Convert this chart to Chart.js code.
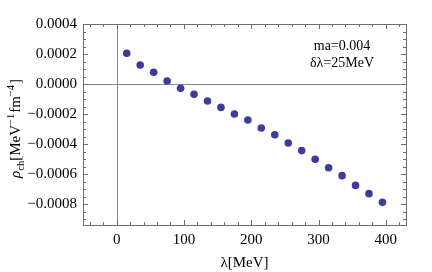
<!DOCTYPE html>
<html>
<head>
<meta charset="utf-8">
<script src="https://cdn.jsdelivr.net/npm/chart.js"></script>
<style>
  html, body { margin: 0; padding: 0; background: #fff; }
</style>
</head>
<body>
<canvas id="c" width="432" height="272"></canvas>
<script>
// data
const lambdaMeV = [15, 35, 55, 75, 95, 115, 135, 155, 175, 195, 215, 235, 255, 275, 295, 315, 335, 355, 375, 395];
const rhoCh = [0.000205, 0.000127, 0.000078, 0.000020, -0.000029, -0.000069, -0.000113, -0.000156, -0.000200, -0.000240,
               -0.000293, -0.000338, -0.000393, -0.000444, -0.000502, -0.000558, -0.000611, -0.000676, -0.000731, -0.000789];
const xTicks = [0, 100, 200, 300, 400];
const yTicks = [-0.0008, -0.0006, -0.0004, -0.0002, 0, 0.0002, 0.0004];
const xRange = [-50, 430];
const yRange = [-0.00094, 0.0004];
const noteLines = ['ma=0.004', 'δλ=25MeV'];

const SERIF = "'Liberation Serif', 'DejaVu Serif', serif";
const FRAME = '#6e6e6e';

function fmtY(v) {
  const s = Math.abs(v).toFixed(4);
  return v < -1e-12 ? '\u2212' + s : s;
}

// draws a run of [text, style] pieces; style: 'n' normal, 'i' italic, 'sub', 'sup'
function drawRich(ctx, pieces, x, y, size) {
  let w = 0;
  const fonts = pieces.map(([t, st]) => {
    const small = st === 'sub' || st === 'sup';
    const f = (st === 'i' ? 'italic ' : '') + (small ? size * 0.7 : size) + 'px ' + SERIF;
    ctx.font = f;
    const tw = ctx.measureText(t).width + (st === 'sup' ? 1 : 0);
    w += tw;
    return { t, st, f, tw };
  });
  let cx = x - w / 2;
  ctx.textAlign = 'left';
  ctx.textBaseline = 'alphabetic';
  for (const p of fonts) {
    ctx.font = p.f;
    let dy = 0;
    if (p.st === 'sub') dy = size * 0.25;
    if (p.st === 'sup') dy = -size * 0.4;
    ctx.fillText(p.t, cx, y + dy);
    cx += p.tw;
  }
}

const framePlugin = {
  id: 'frame',
  beforeDatasetsDraw(chart) {
    const { ctx, chartArea: a, scales: { x, y } } = chart;
    ctx.save();
    // zero axes
    ctx.strokeStyle = '#8a8a8a';
    ctx.lineWidth = 1;
    const x0 = Math.round(x.getPixelForValue(0)) + 0.5;
    const y0 = Math.round(y.getPixelForValue(0)) + 0.5;
    ctx.beginPath();
    ctx.moveTo(x0, a.top); ctx.lineTo(x0, a.bottom);
    ctx.moveTo(a.left, y0); ctx.lineTo(a.right, y0);
    ctx.stroke();

    // frame
    ctx.strokeStyle = FRAME;
    ctx.strokeRect(Math.round(a.left) + 0.5, Math.round(a.top) + 0.5,
                   Math.round(a.right - a.left), Math.round(a.bottom - a.top));

    // inward ticks on all four sides
    ctx.beginPath();
    for (let i = -2; i <= 21; i++) {
      const px = Math.round(x.getPixelForValue(i * 20)) + 0.5;
      if (px < a.left || px > a.right) continue;
      const len = i % 5 === 0 ? 5 : 3;
      ctx.moveTo(px, a.bottom); ctx.lineTo(px, a.bottom - len);
      ctx.moveTo(px, a.top); ctx.lineTo(px, a.top + len);
    }
    for (let i = -18; i <= 8; i++) {
      const py = Math.round(y.getPixelForValue(i * 0.00005)) + 0.5;
      if (py < a.top || py > a.bottom) continue;
      const len = i % 4 === 0 ? 5 : 3;
      ctx.moveTo(a.left, py); ctx.lineTo(a.left + len, py);
      ctx.moveTo(a.right, py); ctx.lineTo(a.right - len, py);
    }
    ctx.stroke();
    ctx.restore();
  },
  afterDraw(chart) {
    const { ctx, chartArea: a } = chart;
    ctx.save();
    ctx.fillStyle = '#000';
    // axis titles
    drawRich(ctx, [['λ[MeV]', 'n']], (a.left + a.right) / 2, 267, 15);
    ctx.translate(20, (a.top + a.bottom) / 2 + 4);
    ctx.rotate(-Math.PI / 2);
    drawRich(ctx, [['ρ', 'i'], ['ch', 'sub'], ['[MeV', 'n'], ['\u22121', 'sup'], ['fm', 'n'], ['\u22124', 'sup'], [']', 'n']], 0, 0, 15);
    ctx.restore();

    // annotation
    ctx.save();
    ctx.fillStyle = '#000';
    ctx.font = '14px ' + SERIF;
    ctx.textAlign = 'center';
    ctx.textBaseline = 'middle';
    noteLines.forEach((t, k) => ctx.fillText(t, 342, 46 + k * 17));
    ctx.restore();
  }
};

new Chart(document.getElementById('c'), {
  type: 'scatter',
  data: {
    datasets: [{
      data: lambdaMeV.map((v, i) => ({ x: v, y: rhoCh[i] })),
      backgroundColor: '#3d3d99',
      borderColor: '#3d3d99',
      pointRadius: 3.8,
      borderWidth: 0
    }]
  },
  options: {
    responsive: false,
    animation: false,
    devicePixelRatio: 1,
    layout: { padding: { top: 24, right: 26, left: 0, bottom: 0 } },
    plugins: { legend: { display: false }, tooltip: { enabled: false } },
    scales: {
      x: {
        type: 'linear',
        min: xRange[0], max: xRange[1],
        afterBuildTicks: s => { s.ticks = xTicks.map(v => ({ value: v })); },
        afterFit: s => { s.height = 47; },
        grid: { display: false, drawTicks: false },
        border: { display: false },
        ticks: { color: '#000', font: { family: SERIF, size: 15 }, padding: 6, maxRotation: 0 }
      },
      y: {
        type: 'linear',
        min: yRange[0], max: yRange[1],
        afterBuildTicks: s => { s.ticks = yTicks.map(v => ({ value: v })); },
        afterFit: s => { s.width = 83; },
        grid: { display: false, drawTicks: false },
        border: { display: false },
        ticks: { color: '#000', font: { family: SERIF, size: 15 }, padding: 6, callback: v => fmtY(v) }
      }
    }
  },
  plugins: [framePlugin]
});
</script>
</body>
</html>
